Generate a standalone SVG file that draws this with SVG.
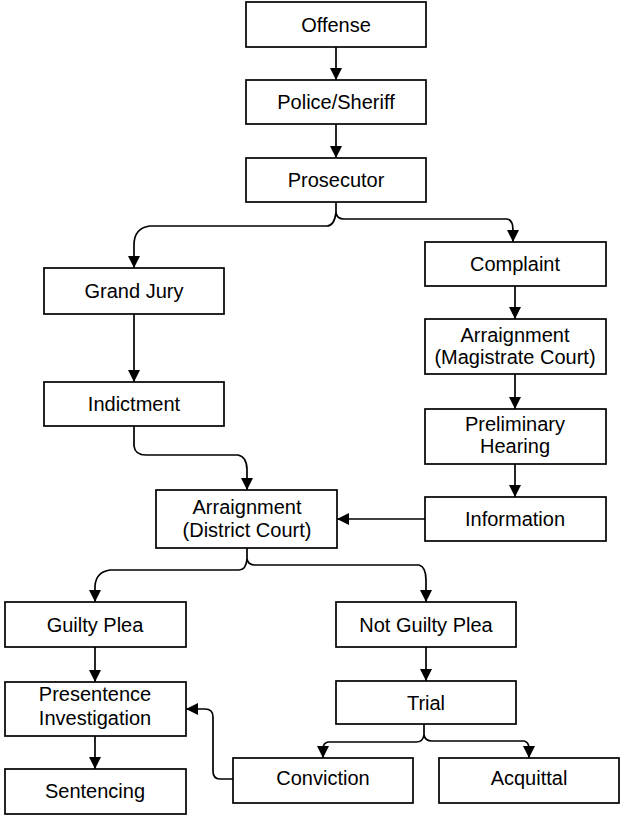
<svg xmlns="http://www.w3.org/2000/svg" width="623" height="817" viewBox="0 0 623 817">
<style>
.box{fill:#fff;stroke:#000;stroke-width:1.7}
.lbl{font-family:"Liberation Sans",Arial,sans-serif;font-size:20px;fill:#000;text-anchor:middle}
.con{fill:none;stroke:#000;stroke-width:1.7}
</style>
<defs>
<marker id="arr" markerUnits="userSpaceOnUse" markerWidth="13" markerHeight="13" refX="12" refY="6" orient="auto" viewBox="0 0 13 12">
<path d="M0,0 L12,6 L0,12 z" fill="#000"/>
</marker>
</defs>
<rect width="623" height="817" fill="#fff"/>
<g id="connectors">
<path class="con" d="M336,47 L336,80" marker-end="url(#arr)"/>
<path class="con" d="M336,124 L336,158" marker-end="url(#arr)"/>
<path class="con" d="M336,202 L336,213"/>
<path class="con" d="M336,213 Q334,226 327,226 L150,226 Q134,228 134,245 L134,268" marker-end="url(#arr)"/>
<path class="con" d="M336,213 Q337,219 344,219 L507,219 Q513,220 513,230 L513,242" marker-end="url(#arr)"/>
<path class="con" d="M134,314 L134,382" marker-end="url(#arr)"/>
<path class="con" d="M134,426 L134,446 Q135,455 146,455 L238,455 Q247,457 247,470 L247,490" marker-end="url(#arr)"/>
<path class="con" d="M515,286 L515,319" marker-end="url(#arr)"/>
<path class="con" d="M515,374 L515,409" marker-end="url(#arr)"/>
<path class="con" d="M515,464 L515,497" marker-end="url(#arr)"/>
<path class="con" d="M425,519 L337,519" marker-end="url(#arr)"/>
<path class="con" d="M247,548 L247,559"/>
<path class="con" d="M247,559 Q246,570 239,570 L110,570 Q96,572 95,586 L95,602" marker-end="url(#arr)"/>
<path class="con" d="M247,559 Q248,565 255,565 L419,565 Q426,567 426,580 L426,602" marker-end="url(#arr)"/>
<path class="con" d="M95,647 L95,682" marker-end="url(#arr)"/>
<path class="con" d="M95,736 L95,769" marker-end="url(#arr)"/>
<path class="con" d="M426,647 L426,681" marker-end="url(#arr)"/>
<path class="con" d="M424,724 L424,735"/>
<path class="con" d="M424,735 Q423,742 416,742 L328,742 Q323,743 323,749 L323,758" marker-end="url(#arr)"/>
<path class="con" d="M424,735 Q425,741 432,741 L524,741 Q529,742 529,749 L529,758" marker-end="url(#arr)"/>
<path class="con" d="M233,779 L220,779 Q213,779 213,771 L213,717 Q213,709 205,709 L186,709" marker-end="url(#arr)"/>
</g>
<g id="offense"><rect class="box" x="246" y="2" width="180" height="45"/><text class="lbl" x="336" y="31.5">Offense</text></g>
<g id="police"><rect class="box" x="246" y="80" width="180" height="44"/><text class="lbl" x="336" y="109">Police/Sheriff</text></g>
<g id="prosecutor"><rect class="box" x="246" y="158" width="180" height="44"/><text class="lbl" x="336" y="187">Prosecutor</text></g>
<g id="grandjury"><rect class="box" x="44" y="268" width="180" height="46"/><text class="lbl" x="134" y="298">Grand Jury</text></g>
<g id="indictment"><rect class="box" x="44" y="382" width="180" height="44"/><text class="lbl" x="134" y="411">Indictment</text></g>
<g id="complaint"><rect class="box" x="425" y="242" width="181" height="44"/><text class="lbl" x="515" y="271">Complaint</text></g>
<g id="arraignment-magistrate"><rect class="box" x="425" y="319" width="181" height="55"/><text class="lbl" x="515" y="342">Arraignment</text><text class="lbl" x="515" y="364">(Magistrate Court)</text></g>
<g id="preliminary"><rect class="box" x="425" y="409" width="181" height="55"/><text class="lbl" x="515" y="431">Preliminary</text><text class="lbl" x="515" y="453">Hearing</text></g>
<g id="information"><rect class="box" x="425" y="497" width="181" height="44"/><text class="lbl" x="515" y="526">Information</text></g>
<g id="arraignment-district"><rect class="box" x="156" y="490" width="181" height="58"/><text class="lbl" x="247" y="514">Arraignment</text><text class="lbl" x="247" y="537">(District Court)</text></g>
<g id="guiltyplea"><rect class="box" x="5" y="602" width="181" height="45"/><text class="lbl" x="95" y="631.5">Guilty Plea</text></g>
<g id="notguiltyplea"><rect class="box" x="336" y="602" width="180" height="45"/><text class="lbl" x="426" y="631.5">Not Guilty Plea</text></g>
<g id="presentence"><rect class="box" x="5" y="682" width="181" height="54"/><text class="lbl" x="95" y="701">Presentence</text><text class="lbl" x="95" y="725">Investigation</text></g>
<g id="trial"><rect class="box" x="336" y="681" width="180" height="43"/><text class="lbl" x="426" y="709.5">Trial</text></g>
<g id="sentencing"><rect class="box" x="5" y="769" width="181" height="45"/><text class="lbl" x="95" y="798">Sentencing</text></g>
<g id="conviction"><rect class="box" x="233" y="758" width="180" height="45"/><text class="lbl" x="323" y="785">Conviction</text></g>
<g id="acquittal"><rect class="box" x="439" y="758" width="180" height="45"/><text class="lbl" x="529" y="785">Acquittal</text></g>
</svg>
